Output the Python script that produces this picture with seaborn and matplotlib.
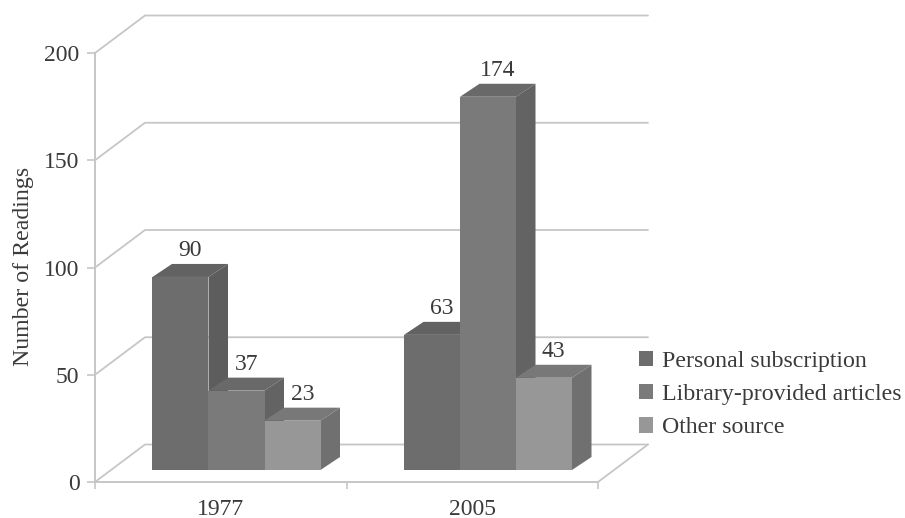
import matplotlib
matplotlib.use("Agg")
import matplotlib.pyplot as plt
import pandas as pd
import seaborn as sns

years = ["1977", "2005"]
sources = ["Personal subscription", "Library-provided articles", "Other source"]
personal = [90, 63]
library = [37, 174]
other = [23, 43]
y_ticks = [0, 50, 100, 150, 200]

front_colors = ["#6d6d6d", "#7a7a7a", "#979797"]
top_colors = ["#626262", "#696969", "#787878"]
side_colors = ["#5d5d5d", "#636363", "#707070"]
grid_color = "#c6c6c6"
text_color = "#3a3a3a"

sns.set_theme(style="white")
plt.rcParams["font.family"] = ["Liberation Serif", "DejaVu Serif"]

df = pd.DataFrame({
    "Year": years * 3,
    "Source": [s for s in sources for _ in years],
    "Readings": personal + library + other,
})

W, H = 905, 518
fig = plt.figure(figsize=(W / 100, H / 100), dpi=100, facecolor="white")

# pixel layout of the pseudo-3D box
ax_left, ax_bottom, ax_w, ax_h = 95, 482, 503, 429
bar_dx_px, bar_dy_px = 15.75, 12

base = fig.add_axes([ax_left / W, (H - ax_bottom) / H, ax_w / W, ax_h / H])
bars = fig.add_axes([(ax_left + bar_dx_px) / W, (H - ax_bottom + bar_dy_px) / H, ax_w / W, ax_h / H])
bars.patch.set_alpha(0)

px_x = 2 / ax_w      # category units per pixel
px_y = 200 / ax_h    # value units per pixel

# Base layer: axis, ticks and back-wall gridlines
base.set_xlim(-0.5, 1.5)
base.set_ylim(0, 200)
for s in ["top", "right"]:
    base.spines[s].set_visible(False)
for s in ["left", "bottom"]:
    base.spines[s].set_color(grid_color)
    base.spines[s].set_linewidth(1.4)
base.set_yticks(y_ticks)
base.set_xticks([-0.5, 0.5, 1.5])
base.set_xticklabels([])
base.set_xticks([0, 1], labels=years, minor=True)
base.tick_params(axis="y", which="major", left=True, length=5.5, width=1.2, color=grid_color,
                 labelsize=17, labelcolor=text_color, pad=5.7)
base.tick_params(axis="x", which="major", bottom=True, length=5, width=1.2, color=grid_color)
base.tick_params(axis="x", which="minor", bottom=False, length=0, labelsize=17,
                 labelcolor=text_color, pad=12)
base.set_ylabel("Number of Readings", fontsize=17.2, color=text_color)
base.yaxis.set_label_coords(-61 / ax_w, 0.503)

wall_dx = 50 * px_x
wall_dy = 37.5 * px_y
for v in y_ticks:
    base.plot([-0.5, -0.5 + wall_dx, 1.5 + wall_dx], [v, v + wall_dy, v + wall_dy],
              color=grid_color, lw=1.3, clip_on=False, zorder=1)
base.plot([1.5, 1.5 + wall_dx], [0, wall_dy], color=grid_color, lw=1.3, clip_on=False, zorder=1)

# Bar layer: fronts by seaborn, top and side faces derived from each bar
sns.barplot(data=df, x="Year", y="Readings", hue="Source", order=years, hue_order=sources,
            palette=front_colors, saturation=1, width=0.668, gap=0, linewidth=0, ax=bars)
bars.set_xlim(-0.5, 1.5)
bars.set_ylim(0, 200)
bars.axis("off")

dx = 19.5 * px_x
dy = 13 * px_y
for i, container in enumerate(bars.containers):
    z = 3 + i
    for bar in container:
        x0, w, h = bar.get_x(), bar.get_width(), bar.get_height()
        bar.set_zorder(z + 0.2)
        bars.fill([x0, x0 + dx, x0 + w + dx, x0 + w], [h, h + dy, h + dy, h],
                  color=top_colors[i], lw=0, zorder=z, clip_on=False)
        bars.fill([x0 + w, x0 + w + dx, x0 + w + dx, x0 + w], [0, dy, h + dy, h],
                  color=side_colors[i], lw=0, zorder=z, clip_on=False)
        bars.annotate(f"{h:.0f}", xy=(x0 + w / 2 + dx / 2, h + dy), xytext=(0, 2), textcoords="offset points",
                      ha="center", va="bottom", fontsize=17, color=text_color, zorder=10,
                      annotation_clip=False)

sns.move_legend(bars, loc="upper left", bbox_to_anchor=(639 / W, (H - 350.5) / H),
                bbox_transform=fig.transFigure, title=None, frameon=False, fontsize=17.2,
                handlelength=0.6, handleheight=0.6, handletextpad=0.36, labelspacing=0.52,
                borderpad=0, borderaxespad=0, labelcolor=text_color)

fig.savefig("out.png", dpi=100, facecolor="white")
